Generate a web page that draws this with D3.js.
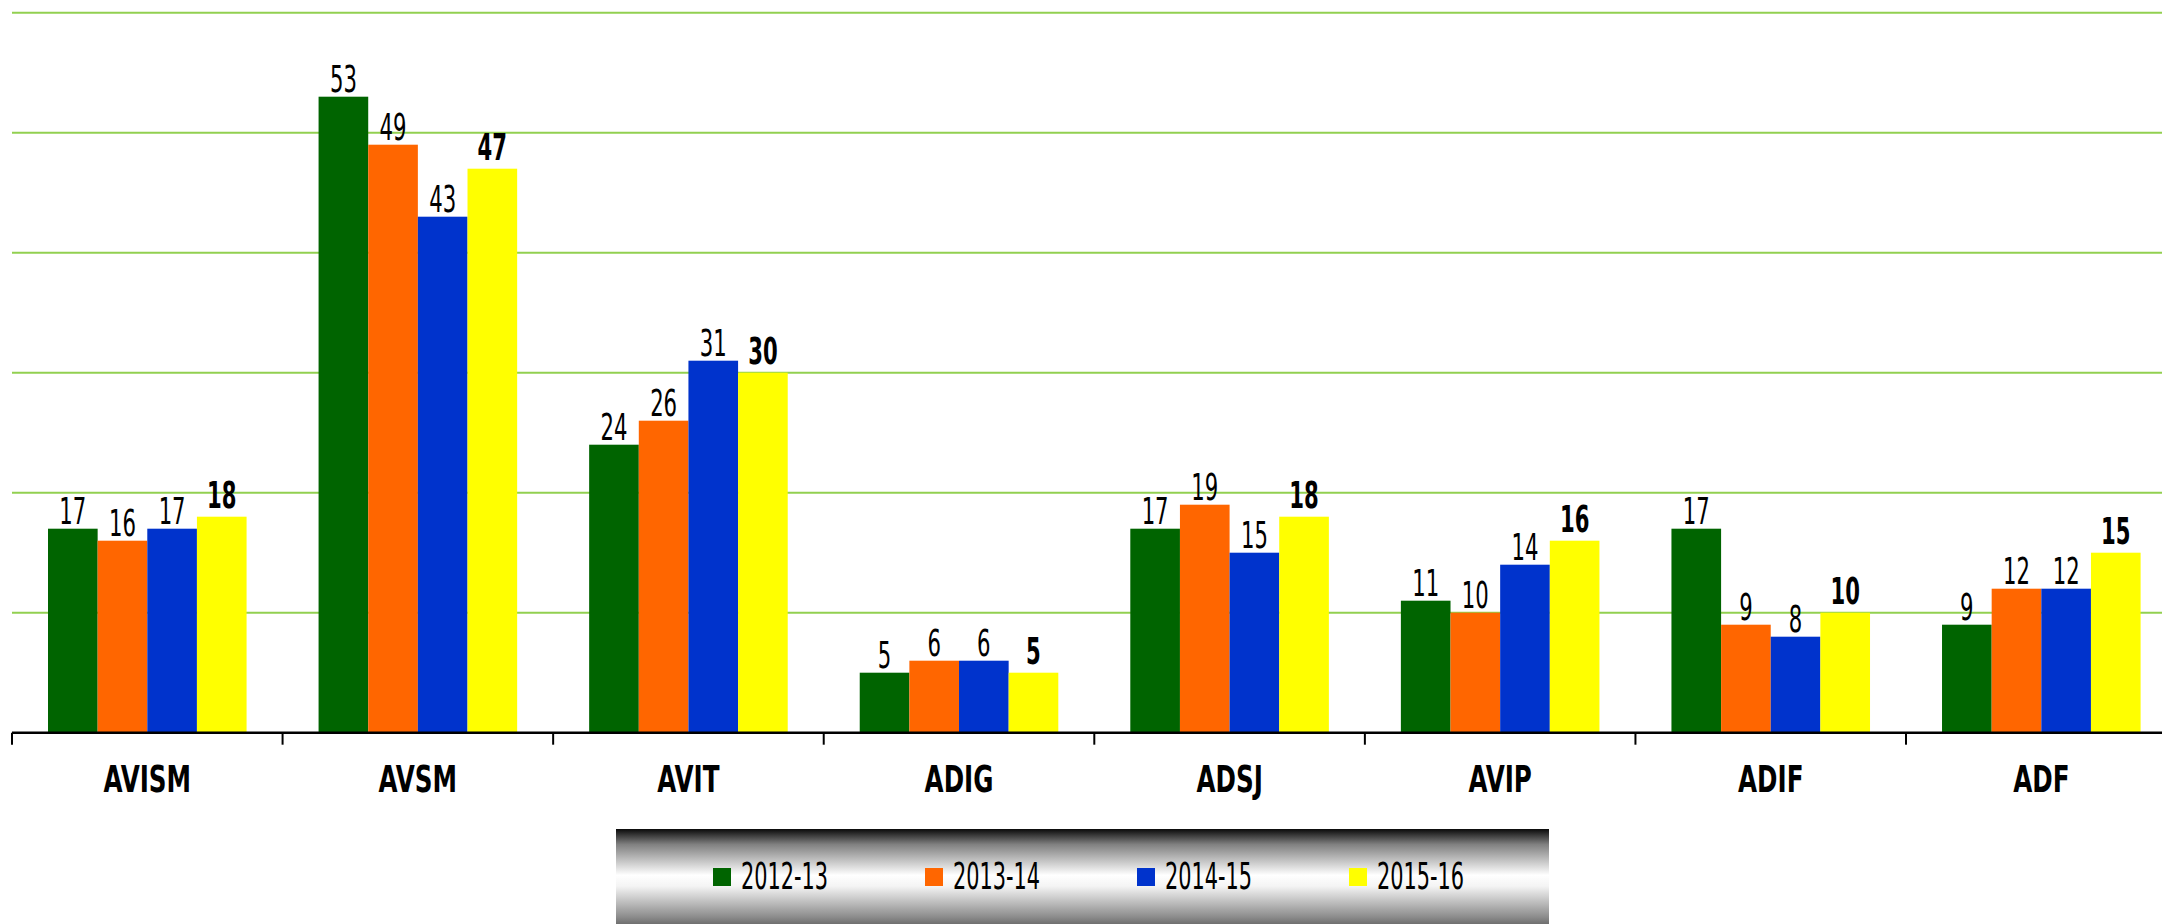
<!DOCTYPE html>
<html>
<head>
<meta charset="utf-8">
<script src="https://cdnjs.cloudflare.com/ajax/libs/d3/7.8.5/d3.min.js"></script>
<style>
	body { margin: 0; background: #fff; }
	svg { display: block; }
	text { font-family: "Liberation Sans Narrow", "DejaVu Sans Condensed", sans-serif; }
</style>
</head>
<body>
<svg id="chart" width="2162" height="924"></svg>
<script>
(function() {

	// chart data
	var categories = ['AVISM', 'AVSM', 'AVIT', 'ADIG', 'ADSJ', 'AVIP', 'ADIF', 'ADF'];
	var seriesNames = ['2012-13', '2013-14', '2014-15', '2015-16'];
	var values2012 = [17, 53, 24, 5, 17, 11, 17, 9];
	var values2013 = [16, 49, 26, 6, 19, 10, 9, 12];
	var values2014 = [17, 43, 31, 6, 15, 14, 8, 12];
	var values2015 = [18, 47, 30, 5, 18, 16, 10, 15];
	var gridTicks = [10, 20, 30, 40, 50, 60];
	var colors = ['#006400', '#ff6600', '#0033cc', '#ffff00'];

	var allValues = [values2012, values2013, values2014, values2015];

	var svg = d3.select('#chart');

	var x = d3.scaleBand()
		.domain(categories)
		.range([12, 2176.6])
		.paddingInner(0)
		.paddingOuter(0);

	var x1 = d3.scaleBand()
		.domain(seriesNames)
		.range([36, x.bandwidth() - 36]);

	var y = d3.scaleLinear()
		.domain([0, 60])
		.range([732.7, 12.7]);

	// gridlines
	svg.append('g')
		.attr('class', 'grid')
		.selectAll('line')
		.data(gridTicks)
		.enter()
		.append('line')
		.attr('x1', 12)
		.attr('x2', 2162)
		.attr('y1', function(d) { return y(d); })
		.attr('y2', function(d) { return y(d); })
		.attr('stroke', '#92d050')
		.attr('stroke-width', 2);

	// bars
	var groups = svg.append('g')
		.attr('class', 'bars')
		.selectAll('g')
		.data(categories)
		.enter()
		.append('g')
		.attr('transform', function(d) { return 'translate(' + x(d) + ',0)'; });

	groups.selectAll('rect')
		.data(function(d, i) {
			return seriesNames.map(function(s, j) { return { s: s, j: j, v: allValues[j][i] }; });
		})
		.enter()
		.append('rect')
		.attr('x', function(d) { return x1(d.s); })
		.attr('width', x1.bandwidth())
		.attr('y', function(d) { return y(d.v); })
		.attr('height', function(d) { return y(0) - y(d.v); })
		.attr('fill', function(d) { return colors[d.j]; });

	// value labels
	groups.selectAll('text')
		.data(function(d, i) {
			return seriesNames.map(function(s, j) { return { s: s, j: j, v: allValues[j][i] }; });
		})
		.enter()
		.append('text')
		.attr('transform', function(d) {
			var off = d.j === 3 ? 9 : 5;
			return 'translate(' + (x1(d.s) + x1.bandwidth() / 2) + ',' + (y(d.v) - off) + ') scale(0.62,1)';
		})
		.attr('text-anchor', 'middle')
		.attr('font-size', 38)
		.attr('font-weight', function(d) { return d.j === 3 ? 'bold' : 'normal'; })
		.attr('fill', '#000')
		.text(function(d) { return d.v; });

	// x axis
	var xAxis = svg.append('g')
		.attr('class', 'x-axis');

	xAxis.append('line')
		.attr('x1', 12)
		.attr('x2', 2162)
		.attr('y1', y(0))
		.attr('y2', y(0))
		.attr('stroke', '#000')
		.attr('stroke-width', 2.5);

	xAxis.selectAll('line.tick')
		.data(categories)
		.enter()
		.append('line')
		.attr('class', 'tick')
		.attr('x1', function(d) { return x(d); })
		.attr('x2', function(d) { return x(d); })
		.attr('y1', y(0))
		.attr('y2', y(0) + 12)
		.attr('stroke', '#000')
		.attr('stroke-width', 2);

	xAxis.selectAll('text')
		.data(categories)
		.enter()
		.append('text')
		.attr('transform', function(d) { return 'translate(' + (x(d) + x.bandwidth() / 2) + ',792) scale(0.74,1)'; })
		.attr('text-anchor', 'middle')
		.attr('font-size', 37)
		.attr('font-weight', 'bold')
		.text(function(d) { return d; });

	// legend
	var defs = svg.append('defs');
	var grad = defs.append('linearGradient')
		.attr('id', 'legendGrad')
		.attr('x1', 0).attr('y1', 0).attr('x2', 0).attr('y2', 1);
	grad.append('stop').attr('offset', '0%').attr('stop-color', '#0a0a0a');
	grad.append('stop').attr('offset', '14%').attr('stop-color', '#808080');
	grad.append('stop').attr('offset', '42%').attr('stop-color', '#ffffff');
	grad.append('stop').attr('offset', '52%').attr('stop-color', '#f4f4f4');
	grad.append('stop').attr('offset', '80%').attr('stop-color', '#8c8c8c');
	grad.append('stop').attr('offset', '100%').attr('stop-color', '#303030');

	var legend = svg.append('g')
		.attr('class', 'legend');

	legend.append('rect')
		.attr('x', 616)
		.attr('y', 829)
		.attr('width', 933)
		.attr('height', 110)
		.attr('fill', 'url(#legendGrad)');

	var items = legend.selectAll('g')
		.data(seriesNames)
		.enter()
		.append('g')
		.attr('transform', function(d, i) { return 'translate(' + (713 + i * 212) + ',0)'; });

	items.append('rect')
		.attr('x', 0)
		.attr('y', 868)
		.attr('width', 18)
		.attr('height', 18)
		.attr('fill', function(d, i) { return colors[i]; });

	items.append('text')
		.attr('transform', 'translate(28,889) scale(0.61,1)')
		.attr('font-size', 38)
		.text(function(d) { return d; });

})();
</script>
</body>
</html>
